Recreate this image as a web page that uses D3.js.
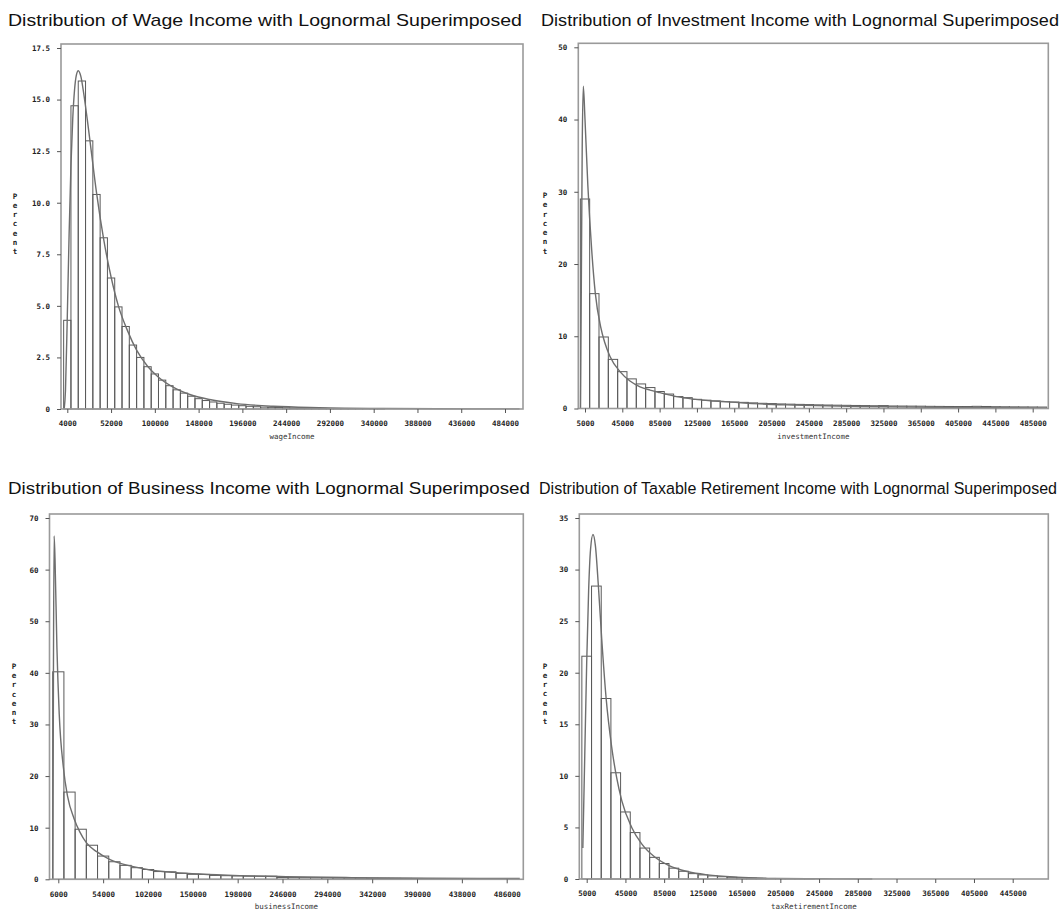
<!DOCTYPE html>
<html><head><meta charset="utf-8">
<script src="https://cdn.jsdelivr.net/npm/d3@7"></script>
<style>
html,body{margin:0;padding:0;background:#fff;}
svg{display:block;}
</style></head>
<body>
<svg id="c" width="1062" height="918"></svg>
<script>
// ---------- DATA ----------
const titles = [
  "Distribution of Wage Income with Lognormal Superimposed",
  "Distribution of Investment Income with Lognormal Superimposed",
  "Distribution of Business Income with Lognormal Superimposed",
  "Distribution of Taxable Retirement Income with Lognormal Superimposed"
];
const xLabels = ["wageIncome", "investmentIncome", "businessIncome", "taxRetirementIncome"];

// histogram bins: first midpoint and width
const wageBinStart = 4000, wageBinWidth = 8000;
const wagePct = [4.3, 14.7, 15.9, 13.0, 10.4, 8.3, 6.35, 4.95, 4.0, 3.1, 2.5, 2.05, 1.7, 1.4, 1.13, 0.93, 0.77, 0.62, 0.5, 0.41, 0.34, 0.28, 0.23, 0.19, 0.16, 0.13, 0.11, 0.09, 0.08, 0.07, 0.06, 0.05, 0.04, 0.04, 0.03, 0.03, 0.02, 0.02, 0.02, 0.02, 0.01, 0.01, 0.01, 0.01];
const wageXTicks = [4000, 52000, 100000, 148000, 196000, 244000, 292000, 340000, 388000, 436000, 484000];
const wageYTicks = [0, 2.5, 5.0, 7.5, 10.0, 12.5, 15.0, 17.5];
const wageCurveX = [600, 2000, 4000, 6000, 8000, 10000, 12000, 14000, 16000, 19000, 22000, 26000, 30000, 36000, 44000, 52000, 60000, 70000, 80000, 92000, 104000, 120000, 140000, 160000, 190000, 230000, 280000, 350000, 450000, 500000];
const wageCurveY = [0, 0.9, 4.5, 8.5, 11.8, 14.1, 15.5, 16.2, 16.4, 16.1, 15.3, 14.0, 12.6, 10.5, 8.2, 6.4, 5.0, 3.8, 2.85, 2.07, 1.54, 1.06, 0.68, 0.46, 0.26, 0.13, 0.065, 0.026, 0.008, 0.005];

const invBinStart = 5000, invBinWidth = 10000;
const invPct = [29.0, 15.9, 9.9, 6.8, 5.1, 4.1, 3.4, 2.9, 2.35, 2.0, 1.65, 1.5, 1.27, 1.15, 1.05, 0.95, 0.9, 0.85, 0.78, 0.72, 0.68, 0.63, 0.6, 0.57, 0.54, 0.5, 0.48, 0.46, 0.44, 0.42, 0.4, 0.38, 0.4, 0.35, 0.34, 0.33, 0.32, 0.3, 0.29, 0.28, 0.27, 0.27, 0.3, 0.28, 0.25, 0.24, 0.23, 0.22, 0.21, 0.2];
const invXTicks = [5000, 45000, 85000, 125000, 165000, 205000, 245000, 285000, 325000, 365000, 405000, 445000, 485000];
const invYTicks = [0, 10, 20, 30, 40, 50];
const invCurveX = [200, 1000, 2000, 3200, 5000, 8000, 12200, 16000, 21800, 26000, 31800, 42500, 53200, 64000, 74700, 85400, 103300, 120800, 156900, 192600, 228000, 300000, 400000, 500000];
const invCurveY = [0, 16, 36, 44.6, 40, 31, 21.9, 16, 11.3, 9.2, 7.2, 5.1, 3.8, 3.0, 2.55, 2.2, 1.65, 1.3, 0.92, 0.64, 0.48, 0.27, 0.14, 0.08];

const busBinStart = 6000, busBinWidth = 12000;
const busPct = [40.2, 16.9, 9.7, 6.6, 4.5, 3.4, 2.7, 2.25, 1.9, 1.5, 1.45, 1.15, 0.97, 0.95, 0.75, 0.7, 0.65, 0.6, 0.6, 0.6, 0.35, 0.33, 0.32, 0.3, 0.28, 0.26, 0.24, 0.22, 0.2, 0.19, 0.18, 0.17, 0.16, 0.15, 0.15, 0.14, 0.13, 0.13, 0.12, 0.12, 0.11];
const busXTicks = [6000, 54000, 102000, 150000, 198000, 246000, 294000, 342000, 390000, 438000, 486000];
const busYTicks = [0, 10, 20, 30, 40, 50, 60, 70];
const busCurveX = [200, 800, 1500, 2500, 4500, 7000, 11350, 16000, 22800, 29000, 36400, 47100, 61400, 86300, 104200, 130000, 157700, 200000, 250000, 320000, 400000, 500000];
const busCurveY = [0, 40, 66.5, 62, 45, 32, 21.8, 16, 11.8, 9.2, 7.0, 5.35, 3.8, 2.45, 1.8, 1.35, 1.03, 0.72, 0.5, 0.33, 0.22, 0.15];

const taxBinStart = 5000, taxBinWidth = 10000;
const taxPct = [21.6, 28.4, 17.5, 10.3, 6.5, 4.5, 3.0, 2.1, 1.5, 1.05, 0.75, 0.52, 0.4, 0.3, 0.22, 0.17, 0.12, 0.09, 0.07, 0.05, 0.04, 0.03, 0.03, 0.02];
const taxXTicks = [5000, 45000, 85000, 125000, 165000, 205000, 245000, 285000, 325000, 365000, 405000, 445000];
const taxYTicks = [0, 5, 10, 15, 20, 25, 30, 35];
const taxCurveX = [1000, 3000, 5000, 7000, 9000, 11500, 14000, 17000, 20500, 25000, 30800, 36000, 41200, 51500, 61800, 75000, 90000, 110000, 130000, 160000, 200000, 250000, 300000];
const taxCurveY = [3, 12, 21, 28, 32, 33.4, 32.3, 28.5, 23.3, 17.6, 12.8, 9.8, 7.6, 5.0, 3.4, 2.15, 1.3, 0.7, 0.4, 0.18, 0.06, 0.02, 0.005];

// ---------- LAYOUT ----------
const panels = [
  { title: titles[0], titleX: [8, 522], titleY: 26, xlab: xLabels[0],
    frame: {l: 61, r: 523, t: 44, b: 409},
    xAnchor: [67.3, 505], yAnchor: [409, 48],
    binStart: wageBinStart, binWidth: wageBinWidth, pct: wagePct,
    xt: wageXTicks, yt: wageYTicks, yfmt: d => d === 0 ? "0" : d3.format(".1f")(d),
    cx: wageCurveX, cy: wageCurveY, pctX: 15 },
  { title: titles[1], titleX: [541, 1059], titleY: 26, xlab: xLabels[1],
    frame: {l: 578.3, r: 1048.3, t: 43.3, b: 408.5},
    xAnchor: [585, 1032.7], yAnchor: [408.5, 47.3],
    binStart: invBinStart, binWidth: invBinWidth, pct: invPct,
    xt: invXTicks, yt: invYTicks, yfmt: d => String(d),
    cx: invCurveX, cy: invCurveY, pctX: 545 },
  { title: titles[2], titleX: [8, 530], titleY: 494, xlab: xLabels[2],
    frame: {l: 49.5, r: 523.3, t: 514, b: 879.3},
    xAnchor: [58.3, 506.7], yAnchor: [879.3, 518],
    binStart: busBinStart, binWidth: busBinWidth, pct: busPct,
    xt: busXTicks, yt: busYTicks, yfmt: d => String(d),
    cx: busCurveX, cy: busCurveY, pctX: 14 },
  { title: titles[3], titleX: [539, 1057], titleY: 494, xlab: xLabels[3],
    frame: {l: 579.3, r: 1048.3, t: 514, b: 879},
    xAnchor: [586.7, 1012.7], yAnchor: [879, 518],
    binStart: taxBinStart, binWidth: taxBinWidth, pct: taxPct,
    xt: taxXTicks, yt: taxYTicks, yfmt: d => String(d),
    cx: taxCurveX, cy: taxCurveY, pctX: 545 }
];

const svg = d3.select("#c");
const tickFont = "'DejaVu Sans Mono', 'Liberation Mono', monospace";

panels.forEach(p => {
  const g = svg.append("g");
  const xt = p.xt, yt = p.yt;
  const x = d3.scaleLinear().domain([xt[0], xt[xt.length - 1]]).range(p.xAnchor);
  const y = d3.scaleLinear().domain([yt[0], yt[yt.length - 1]]).range(p.yAnchor);
  const f = p.frame;

  // title (fit to the reference width)
  const tt = g.append("text")
    .attr("x", p.titleX[0]).attr("y", p.titleY)
    .style("font-family", "'Liberation Sans', Arial, sans-serif")
    .style("font-size", "17px").style("fill", "#111")
    .text(p.title);
  const natural = tt.node().getComputedTextLength();
  const want = p.titleX[1] - p.titleX[0];
  if (natural > want) tt.style("font-size", (17 * want / natural).toFixed(2) + "px");
  tt.attr("textLength", want).attr("lengthAdjust", "spacingAndGlyphs");

  // bars
  const bins = p.pct.map((v, i) => ({ mid: p.binStart + i * p.binWidth, v }));
  g.append("g").selectAll("rect").data(bins).join("rect")
    .attr("x", d => x(d.mid - p.binWidth / 2))
    .attr("width", d => x(d.mid + p.binWidth / 2) - x(d.mid - p.binWidth / 2))
    .attr("y", d => y(d.v))
    .attr("height", d => y(0) - y(d.v))
    .attr("fill", "none").attr("stroke", "#5a5a5a").attr("stroke-width", 1);

  // curve
  const pts = p.cx.map((cx, i) => [cx, p.cy[i]]);
  const line = d3.line().x(d => x(d[0])).y(d => y(d[1])).curve(d3.curveMonotoneX);
  g.append("path").datum(pts).attr("d", line)
    .attr("fill", "none").attr("stroke", "#6e6e6e").attr("stroke-width", 1.4);

  // frame
  g.append("rect").attr("x", f.l).attr("y", f.t)
    .attr("width", f.r - f.l).attr("height", f.b - f.t)
    .attr("fill", "none").attr("stroke", "#9a9a9a").attr("stroke-width", 1.6);

  // x axis
  const xa = d3.axisBottom(x).tickValues(xt).tickSize(4).tickSizeOuter(0).tickPadding(8).tickFormat(d3.format("d"));
  const gx = g.append("g").attr("transform", `translate(0,${f.b})`).call(xa);
  gx.select(".domain").remove();
  gx.selectAll("line").attr("stroke", "#555");
  gx.selectAll("text").style("font-family", tickFont).style("font-weight", "bold")
    .style("font-size", "7.5px").style("fill", "#222");

  // y axis
  const ya = d3.axisLeft(y).tickValues(yt).tickSize(4).tickSizeOuter(0).tickPadding(7).tickFormat(p.yfmt);
  const gy = g.append("g").attr("transform", `translate(${f.l},0)`).call(ya);
  gy.select(".domain").remove();
  gy.selectAll("line").attr("stroke", "#555");
  gy.selectAll("text").style("font-family", tickFont).style("font-weight", "bold")
    .style("font-size", "7.5px").style("fill", "#222");

  // x label
  g.append("text").attr("x", (f.l + f.r) / 2).attr("y", f.b + 30)
    .attr("text-anchor", "middle")
    .style("font-family", tickFont).style("font-size", "7.5px").style("fill", "#333")
    .text(p.xlab);

  // Percent (stacked)
  const letters = "Percent".split("");
  const cyMid = (f.t + f.b) / 2;
  g.append("g").selectAll("text").data(letters).join("text")
    .attr("x", p.pctX).attr("y", (d, i) => cyMid - 28 + i * 9.3)
    .attr("text-anchor", "middle")
    .style("font-family", tickFont).style("font-weight", "bold")
    .style("font-size", "7.5px").style("fill", "#222")
    .text(d => d);
});
</script>
</body></html>
